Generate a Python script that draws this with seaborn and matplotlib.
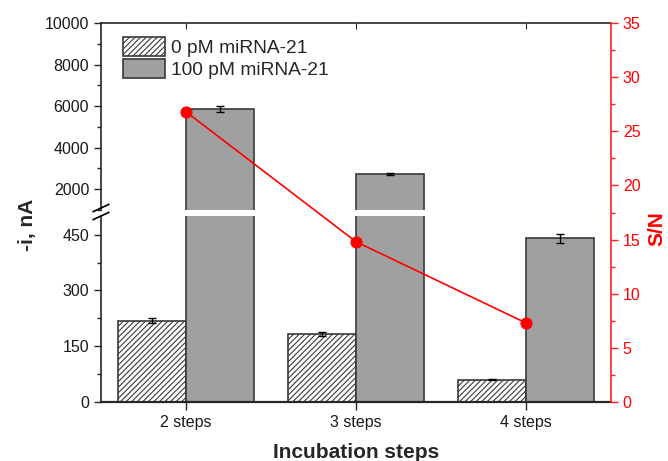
import numpy as np
import pandas as pd
import matplotlib
matplotlib.use("Agg")
import matplotlib.pyplot as plt
from matplotlib.ticker import MultipleLocator
import seaborn as sns

steps = ["2 steps", "3 steps", "4 steps"]
groups = ["0 pM miRNA-21", "100 pM miRNA-21"]
blank_current = [219, 183, 60]
blank_err = [6, 5, 1]
target_current = [5850, 2720, 440]
target_err = [150, 50, 12]
sn_ratio = [26.8, 14.8, 7.3]

df = pd.DataFrame({
    "step": steps * 2,
    "group": [groups[0]] * 3 + [groups[1]] * 3,
    "current": blank_current + target_current,
    "err": blank_err + target_err,
})

sns.set_style("ticks")
plt.rcParams["font.family"] = ["Liberation Sans", "DejaVu Sans"]
plt.rcParams["hatch.linewidth"] = 0.8

fig = plt.figure(figsize=(6.68, 4.61), dpi=100)
L, W = 101 / 668, 510 / 668
ax_top = fig.add_axes([L, 1 - 210 / 461, W, (210 - 23) / 461])
ax_bot = fig.add_axes([L, 1 - 402 / 461, W, (402 - 216) / 461])
ax_r = fig.add_axes([L, 1 - 402 / 461, W, (402 - 23) / 461])

edge = "#3a3a3a"
tick_fs = 11.5
for ax in (ax_top, ax_bot):
    sns.barplot(data=df, x="step", y="current", hue="group", order=steps,
                hue_order=groups, palette=["white", "#a0a0a0"], errorbar=None,
                edgecolor=edge, linewidth=1.2, legend=False, ax=ax, saturation=1)
    for p in ax.containers[0]:
        p.set_hatch("//////")
    for cont, errs in zip(ax.containers, [blank_err, target_err]):
        xs = [p.get_x() + p.get_width() / 2 for p in cont]
        hs = [p.get_height() for p in cont]
        ax.errorbar(xs, hs, yerr=errs, fmt="none", ecolor="black",
                    elinewidth=1, capsize=3, capthick=1)
    ax.set_xlim(-0.5, 2.5)
    ax.set_xlabel("")
    ax.set_ylabel("")
    ax.spines["right"].set_visible(False)
    ax.tick_params(axis="y", labelsize=tick_fs, direction="out", length=5, width=1,
                   labelcolor="#1a1a1a")
    ax.tick_params(axis="y", which="minor", direction="out", length=3, width=1)
    for s in ax.spines.values():
        s.set_linewidth(1.2)

ax_top.set_ylim(1000, 10000)
ax_top.yaxis.set_major_locator(MultipleLocator(2000))
ax_top.yaxis.set_minor_locator(MultipleLocator(1000))
ax_top.spines["bottom"].set_visible(False)
ax_top.xaxis.tick_top()
ax_top.tick_params(axis="x", direction="in", length=4, labeltop=False, labelbottom=False)

ax_bot.set_ylim(0, 500)
ax_bot.yaxis.set_major_locator(MultipleLocator(150))
ax_bot.yaxis.set_minor_locator(MultipleLocator(75))
ax_bot.spines["top"].set_visible(False)
ax_bot.tick_params(axis="x", direction="out", length=6, width=1, labelsize=tick_fs,
                   labelcolor="#1a1a1a")
ax_bot.spines["bottom"].set_linewidth(1.6)

ax_top.legend(handles=[ax_top.containers[0][0], ax_top.containers[1][0]],
              labels=groups, loc="upper left", bbox_to_anchor=(0.02, 0.985),
              frameon=False, fontsize=13.8, handlelength=2.2, handleheight=1.1,
              handletextpad=0.3, labelspacing=0.12, borderaxespad=0.2)

# break marks on the left spine
for yb in (208, 216):
    yf = 1 - yb / 461
    fig.add_artist(plt.Line2D([93 / 668, 109 / 668], [yf - 0.008, yf + 0.008],
                              color="black", lw=1.2))

# S/N on the right axis
ax_r.patch.set_alpha(0)
sns.lineplot(x=np.arange(len(steps)), y=sn_ratio, color="red", marker="o",
             markersize=8, markeredgecolor="red", linewidth=1.2, ax=ax_r)
ax_r.set_xlim(-0.5, 2.5)
ax_r.set_ylim(0, 35)
ax_r.yaxis.tick_right()
ax_r.yaxis.set_major_locator(MultipleLocator(5))
ax_r.yaxis.set_minor_locator(MultipleLocator(2.5))
ax_r.set_xticks([])
for side in ("left", "top", "bottom"):
    ax_r.spines[side].set_visible(False)
ax_r.spines["right"].set_color("#ff2020")
ax_r.spines["right"].set_linewidth(1.2)
ax_r.tick_params(axis="y", colors="#ff2020", labelcolor="red", labelsize=tick_fs,
                 direction="out", length=5, width=1)
ax_r.tick_params(axis="y", which="minor", colors="#ff2020", direction="out",
                 length=3, width=1)

fig.text(28 / 668, 1 - 225 / 461, "-i, nA", rotation=90, ha="center",
         va="center", fontsize=15, fontweight="bold")
fig.text(657 / 668, 1 - 229 / 461, "S/N", rotation=90, ha="center",
         va="center", fontsize=15, fontweight="bold", color="red")
fig.text(356 / 668, 1 - 452 / 461, "Incubation steps", ha="center",
         va="center", fontsize=15, fontweight="bold")

fig.savefig("out.png", dpi=100)
